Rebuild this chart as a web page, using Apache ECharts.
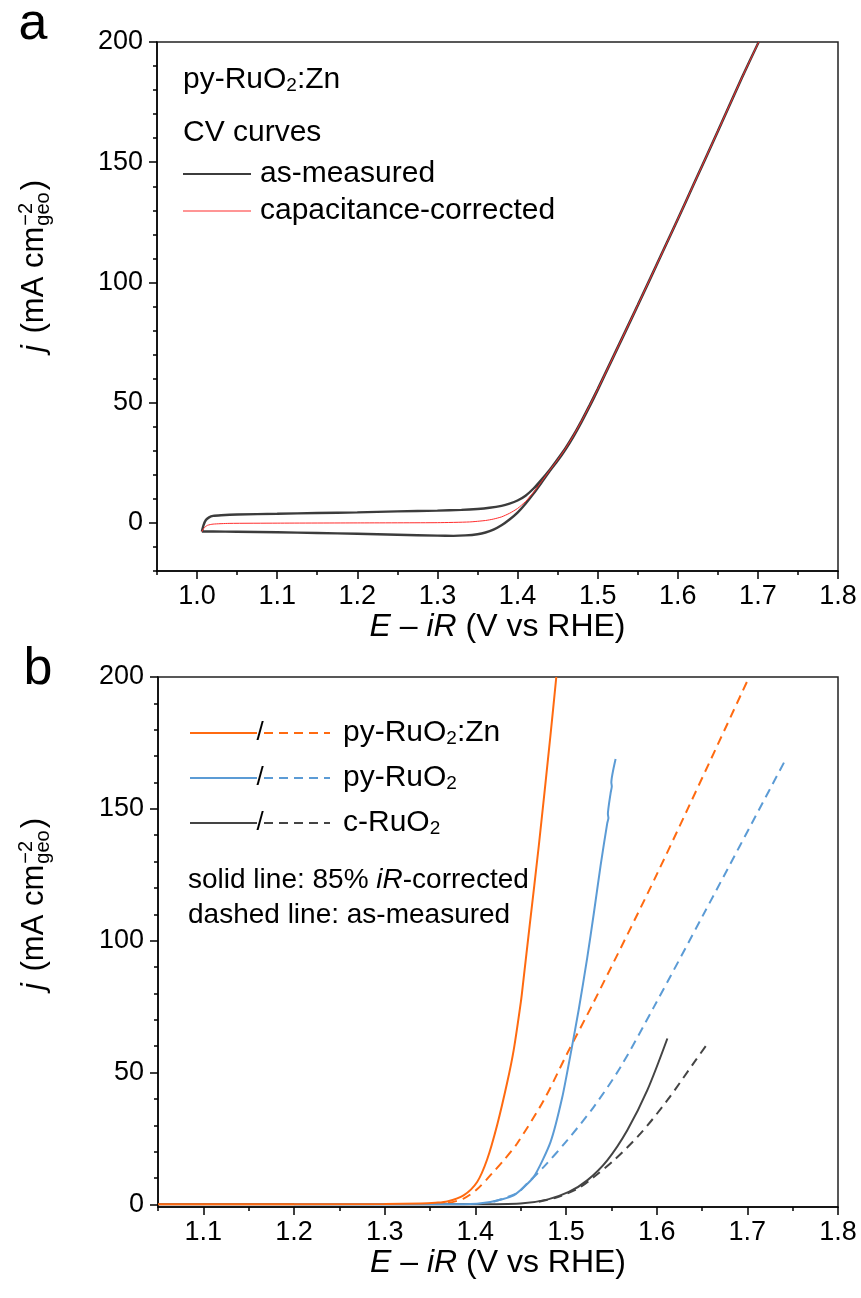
<!DOCTYPE html>
<html><head><meta charset="utf-8">
<script src="https://cdn.jsdelivr.net/npm/echarts@6/dist/echarts.min.js"></script>
<style>html,body{margin:0;padding:0;background:#fff}#c{width:861px;height:1298px}</style>
</head><body><div id="c"></div>
<script>
const FONT = "'Liberation Sans', Arial, Helvetica, sans-serif";

// ---------- Panel a: CV curves of py-RuO2:Zn ----------
const cvAsMeasured = [
  [1.006,-3.6],[1.008,-1.0],[1.011,1.2],[1.015,2.3],[1.02,2.9],[1.03,3.2],[1.05,3.5],[1.10,3.8],[1.15,4.1],
  [1.20,4.4],[1.25,4.8],[1.30,5.1],[1.33,5.4],[1.35,5.8],[1.365,6.3],[1.38,7.1],[1.39,8.0],[1.40,9.3],
  [1.41,11.3],[1.42,14.3],[1.43,18.0],[1.44,22.0],[1.45,26.5],[1.46,31.2],[1.47,36.6],[1.48,42.6],
  [1.49,49.0],[1.50,55.7],[1.52,69.6],[1.55,90.6],[1.58,112.0],[1.60,126.4],[1.62,141.0],[1.65,163.0],
  [1.68,185.2],[1.701,200],
  [1.68,185.0],[1.65,162.8],[1.62,140.8],[1.60,126.2],[1.58,111.8],[1.55,90.3],[1.52,69.2],[1.50,55.2],
  [1.49,48.4],[1.48,42.0],[1.47,36.0],[1.46,30.6],[1.45,25.8],[1.44,21.5],[1.43,16.8],[1.42,12.2],
  [1.41,8.0],[1.40,4.3],[1.39,1.4],[1.38,-1.0],[1.37,-2.8],[1.36,-4.0],[1.35,-4.7],[1.335,-5.2],
  [1.32,-5.4],[1.30,-5.3],[1.25,-4.9],[1.20,-4.5],[1.15,-4.2],[1.10,-3.9],[1.05,-3.7],[1.02,-3.6],[1.006,-3.6]
];
const cvCorrected = [
  [1.006,-3.6],[1.009,-2.0],[1.013,-1.0],[1.02,-0.5],[1.04,-0.2],[1.10,-0.1],[1.20,0],[1.30,0.1],
  [1.34,0.4],[1.36,1.0],[1.37,1.6],[1.38,2.5],[1.39,4.0],[1.40,6.0],[1.41,8.9],[1.42,12.7],[1.43,17.2],
  [1.44,21.8],[1.45,26.2],[1.46,31.0],[1.47,36.4],[1.48,42.4],[1.49,48.8],[1.50,55.5],[1.52,69.4],
  [1.55,90.5],[1.58,111.9],[1.60,126.3],[1.62,140.9],[1.65,162.9],[1.68,185.1],[1.701,200]
];

// ---------- Panel b: LSV curves ----------
const znSolid = [[1.05,0],[1.30,0.1],[1.34,0.3],[1.356,0.6],[1.369,1.1],[1.387,3.4],[1.402,8.5],[1.413,17.0],
  [1.424,30.0],[1.435,46.0],[1.4423,58.5],[1.4505,77.5],[1.4527,84],[1.46,106],[1.47,136],[1.4829,178],[1.4893,200]];
const znDashed = [[1.37,0.5],[1.387,2.2],[1.4019,5.7],[1.4184,11.7],[1.4313,16.7],[1.4461,23.1],[1.4755,39.5],
  [1.5013,57.2],[1.5307,76.8],[1.6008,125.6],[1.702,200]];
const ruSolid = [[1.20,0],[1.387,0],[1.4166,0.9],[1.4423,3.4],[1.4644,10.4],[1.4829,23.6],[1.4958,40.5],
  [1.5059,58.5],[1.5141,74.0],[1.5234,93.5],[1.5307,110.4],[1.5381,128.4],[1.5455,144.6],[1.5468,146.5],
  [1.5462,148],[1.5492,156],[1.5505,158.5],[1.5500,160],[1.5547,168.9]];
const ruDashed = [[1.42,1.0],[1.4461,4.3],[1.4571,7.9],[1.4755,14.2],[1.5013,24.3],[1.5307,37.0],
  [1.5602,52.1],[1.597,74.9],[1.6523,110.4],[1.7425,168.9]];
const cSolid = [[1.05,0],[1.40,0],[1.4497,0.3],[1.4792,1.8],[1.5031,4.7],[1.5234,9.1],[1.5455,16.7],
  [1.5676,28.1],[1.5897,43.3],[1.6118,62.9]];
const cDashed = [[1.47,1.0],[1.4885,2.5],[1.5013,4.1],[1.516,6.6],[1.5307,10.4],[1.5528,16.7],[1.5823,26.9],
  [1.6118,39.5],[1.6431,54.7],[1.6541,60.0]];

// ---------- Ticks ----------
const xMajorA = [1.0,1.1,1.2,1.3,1.4,1.5,1.6,1.7,1.8];
const xMinorA = [0.95,1.0,1.05,1.1,1.15,1.2,1.25,1.3,1.35,1.4,1.45,1.5,1.55,1.6,1.65,1.7,1.75,1.8];
const xMajorB = [1.1,1.2,1.3,1.4,1.5,1.6,1.7,1.8];
const xMinorB = [1.05,1.1,1.15,1.2,1.25,1.3,1.35,1.4,1.45,1.5,1.55,1.6,1.65,1.7,1.75,1.8];
const yMajor = [0,50,100,150,200];
const yMinorA = [-20,-10,0,10,20,30,40,50,60,70,80,90,100,110,120,130,140,150,160,170,180,190,200];
const yMinorB = [0,10,20,30,40,50,60,70,80,90,100,110,120,130,140,150,160,170,180,190,200];

const C_DARK = '#3c3c3c', C_RED = '#ff2d2d', C_OR = '#ff6a10', C_BL = '#5b9bd5', C_GR = '#444444';

const TICK_FS = 27, NAME_FS = 32, LEG_FS = 30, NOTE_FS = 28;
const lineSty = {color:'#000', width:1.5};

function xName() {
  return {
    name: '{i|E}{n| – }{i|iR}{n| (V vs RHE)}',
    nameLocation: 'middle', nameGap: 56,
    nameTextStyle: {color:'#000', fontSize: NAME_FS, fontFamily: FONT, verticalAlign:'middle',
      rich: {i:{fontStyle:'italic', fontSize:NAME_FS, fontFamily:FONT, color:'#000'},
             n:{fontSize:NAME_FS, fontFamily:FONT, color:'#000'}}}
  };
}
function xMain(grid, min, major, minor) {
  return Object.assign({
    gridIndex: grid, type:'value', min, max:1.8, position:'bottom',
    axisLine:{show:true, onZero:false, lineStyle:lineSty},
    axisTick:{show:true, customValues: minor, length:4, lineStyle:lineSty},
    axisLabel:{customValues: major, formatter: v => Number(v).toFixed(1), fontSize:TICK_FS, fontFamily:FONT, color:'#000', margin:12},
    splitLine:{show:false}
  }, xName());
}
function xOver(grid, min, major) {
  return {gridIndex: grid, type:'value', min, max:1.8, position:'bottom',
    axisLine:{show:false, onZero:false}, axisTick:{show:true, customValues: major, length:8, lineStyle:lineSty},
    axisLabel:{show:false}, splitLine:{show:false}};
}
function yMain(grid, min, minor) {
  return {gridIndex: grid, type:'value', min, max:200, position:'left',
    axisLine:{show:true, onZero:false, lineStyle:lineSty},
    axisTick:{show:true, customValues: minor, length:4, lineStyle:lineSty},
    axisLabel:{customValues: yMajor, formatter: v => String(v), fontSize:TICK_FS, fontFamily:FONT, color:'#000', margin:14},
    splitLine:{show:false}};
}
function yOver(grid, min) {
  return {gridIndex: grid, type:'value', min, max:200, position:'left',
    axisLine:{show:false, onZero:false}, axisTick:{show:true, customValues: yMajor, length:8, lineStyle:lineSty},
    axisLabel:{show:false}, splitLine:{show:false}};
}
function ser(name, data, xi, yi, color, width, dashed, smooth) {
  return {name, type:'line', data, xAxisIndex:xi, yAxisIndex:yi, showSymbol:false, symbol:'none',
    smooth: smooth || false,
    lineStyle:{color, width, type: dashed ? [9,6] : 'solid'}, z: dashed ? 2 : 3, animation:false};
}

// text measuring for the stacked super/subscript y titles
const mctx = document.createElement('canvas').getContext('2d');
function tw(text, size, italic) { mctx.font = (italic ? 'italic ' : '') + size + 'px ' + FONT; return mctx.measureText(text).width; }
function txt(text, x, y, size, opts) {
  opts = opts || {};
  return {type:'text', x, y, silent:true, style:Object.assign({text, fontSize:size, fontFamily:FONT,
    fontStyle: opts.italic ? 'italic' : 'normal', fill: opts.fill || '#000',
    align: opts.align || 'left', verticalAlign: opts.va || 'middle',
    textAlign: opts.align || 'left', textVerticalAlign: opts.va || 'middle'}, opts.rich ? {rich: opts.rich} : {})};
}
function yTitle(cx, cy) {
  const S = 31, s = 20;
  const wj = tw('j', S, true) + 3, wm = tw(' (mA cm', S), wsup = tw('−2', s), wsub = tw('geo', s), wp = tw(')', S);
  const blk = Math.max(wsup, wsub) + 3;
  const W = wj + wm + blk + wp;
  const x0 = -W / 2;
  return {type:'group', x:cx, y:cy, rotation: Math.PI/2, silent:true, children:[
    txt('j', x0, 0, S, {italic:true}),
    txt(' (mA cm', x0 + wj, 0, S),
    txt('−2', x0 + wj + wm + 1, -8, s),
    txt('geo', x0 + wj + wm + 1, 9, s),
    txt(')', x0 + wj + wm + blk, 0, S)
  ]};
}
const subRich = {
  m:{fontSize:LEG_FS, fontFamily:FONT, color:'#000', lineHeight:30},
  s:{fontSize:19, fontFamily:FONT, color:'#000', lineHeight:14, verticalAlign:'bottom'}
};
const noteRich = {
  m:{fontSize:NOTE_FS, fontFamily:FONT, color:'#000'},
  i:{fontSize:NOTE_FS, fontFamily:FONT, color:'#000', fontStyle:'italic'}
};
function seg(x1, y, x2, color, width, dashed) {
  return {type:'line', silent:true, shape:{x1, y1:y, x2, y2:y},
    style:{stroke:color, lineWidth:width, lineDash: dashed ? [9,6] : null}};
}
const legRowsB = [
  {y:733, color:C_OR, label:'{m|py-RuO}{s|2}{m|:Zn}'},
  {y:778, color:C_BL, label:'{m|py-RuO}{s|2}'},
  {y:823, color:C_GR, label:'{m|c-RuO}{s|2}'}
];
const graphics = [
  txt('a', 33, 25, 52, {align:'center'}),
  txt('b', 38, 670, 52, {align:'center'}),
  yTitle(34, 266),
  yTitle(34, 904),
  txt('{m|py-RuO}{s|2}{m|:Zn}', 183, 80, LEG_FS, {rich:subRich}),
  txt('CV curves', 183, 133, LEG_FS),
  seg(183, 174, 251, C_DARK, 2, false),
  txt('as-measured', 260, 174, LEG_FS),
  seg(183, 211, 251, C_RED, 1.2, false),
  txt('capacitance-corrected', 260, 211, LEG_FS),
  txt('{m|solid line: 85% }{i|iR}{m|-corrected}', 188, 880, NOTE_FS, {rich:noteRich}),
  txt('dashed line: as-measured', 188, 915, NOTE_FS)
];
legRowsB.forEach(r => {
  graphics.push(seg(190, r.y, 257, r.color, 2, false));
  graphics.push(txt('/', 260, r.y, 26, {align:'center'}));
  graphics.push(seg(264, r.y, 330, r.color, 2, true));
  graphics.push(txt(r.label, 343, r.y, LEG_FS, {rich:subRich}));
});

const chart = echarts.init(document.getElementById('c'), null, {renderer:'canvas'});
chart.setOption({
  animation:false,
  backgroundColor:'#fff',
  grid:[
    {left:157, top:42, width:681, height:529, show:true, borderColor:'#222', borderWidth:1.5, backgroundColor:'transparent'},
    {left:158, top:677, width:680, height:530, show:true, borderColor:'#222', borderWidth:1.5, backgroundColor:'transparent'}
  ],
  xAxis:[ xMain(0, 0.95, xMajorA, xMinorA), xOver(0, 0.95, xMajorA),
          xMain(1, 1.05, xMajorB, xMinorB), xOver(1, 1.05, xMajorB) ],
  yAxis:[ yMain(0, -20, yMinorA), yOver(0, -20),
          yMain(1, -1, yMinorB), yOver(1, -1) ],
  series:[
    ser('as-measured', cvAsMeasured, 0, 0, C_DARK, 2.4, false, 0.2),
    ser('capacitance-corrected', cvCorrected, 0, 0, C_RED, 1, false, 0.2),
    ser('c-RuO2 corrected', cSolid, 2, 2, C_GR, 2, false, 0.3),
    ser('py-RuO2 corrected', ruSolid, 2, 2, C_BL, 2, false, 0.2),
    ser('py-RuO2:Zn corrected', znSolid, 2, 2, C_OR, 2, false, 0.3),
    ser('c-RuO2 as-measured', cDashed, 2, 2, C_GR, 2, true, 0.3),
    ser('py-RuO2 as-measured', ruDashed, 2, 2, C_BL, 2, true, 0.3),
    ser('py-RuO2:Zn as-measured', znDashed, 2, 2, C_OR, 2, true, 0.3)
  ],
  graphic: graphics
});
</script>
</body></html>
